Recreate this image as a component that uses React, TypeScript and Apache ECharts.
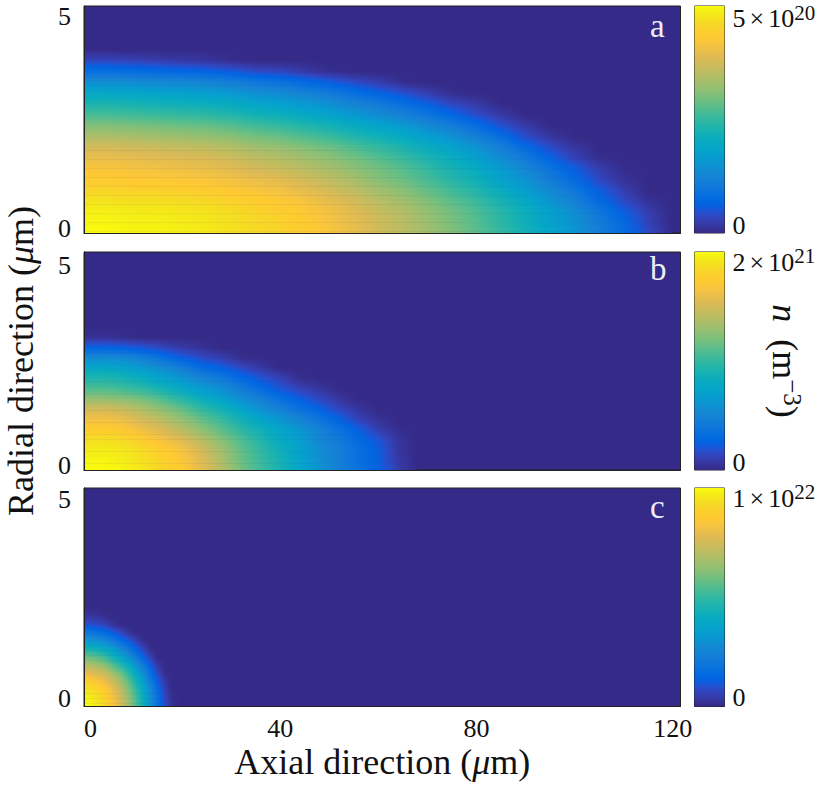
import React, { useEffect, useRef } from "react";
import * as echarts from "echarts";

const FONT = "'Liberation Serif', serif";

// parula-like colour map, as sampled from the reference's colour bar
const PARULA = [
  [.2081,.1663,.5292],[.2116,.1898,.5777],[.2123,.2138,.6270],[.2081,.2386,.6771],[.1959,.2645,.7279],[.1707,.2919,.7792],[.1253,.3242,.8303],[.0591,.3598,.8683],
  [.0117,.3875,.8820],[.0060,.4086,.8828],[.0165,.4266,.8786],[.0329,.4430,.8720],[.0498,.4586,.8641],[.0629,.4737,.8554],[.0723,.4887,.8467],[.0779,.5040,.8384],
  [.0793,.5200,.8312],[.0749,.5375,.8263],[.0641,.5570,.8240],[.0488,.5772,.8228],[.0343,.5966,.8199],[.0265,.6137,.8135],[.0239,.6287,.8038],[.0231,.6418,.7913],
  [.0228,.6535,.7768],[.0267,.6642,.7607],[.0384,.6743,.7436],[.0590,.6838,.7254],[.0843,.6928,.7062],[.1133,.7015,.6859],[.1453,.7098,.6646],[.1801,.7177,.6424],
  [.2178,.7250,.6193],[.2586,.7317,.5954],[.3022,.7376,.5712],[.3482,.7424,.5473],[.3953,.7459,.5244],[.4420,.7481,.5033],[.4871,.7491,.4840],[.5300,.7491,.4661],
  [.5709,.7485,.4494],[.6099,.7473,.4337],[.6473,.7456,.4188],[.6834,.7435,.4044],[.7184,.7411,.3905],[.7525,.7384,.3768],[.7858,.7356,.3633],[.8185,.7327,.3498],
  [.8507,.7299,.3360],[.8824,.7350,.3217],[.9050,.7450,.3000],[.9300,.7550,.2800],[.9550,.7650,.2550],[.9800,.7750,.2300],[.9950,.7850,.2050],[.9955,.7950,.1900],
  [.9880,.8066,.1794],[.9789,.8271,.1633],[.9697,.8481,.1475],[.9626,.8705,.1309],[.9589,.8949,.1132],[.9598,.9218,.0948],[.9661,.9514,.0755],[.9763,.9831,.0538],
];

// Panel a: density in percent of the colour-scale top
const axialA = [0,5,10,15,20,25,30,35,40,45,50,55,60,65,70,75,80,85,90,95,100,105,110,115,120];
const radialA = [0,.25,.5,.75,1,1.25,1.5,1.75,2,2.25,2.5,2.75,3,3.25,3.5,3.75,4,4.25];
const densityA = [
  [100,100,99,99,98,97,95,93,91,88,84,80,75,71,66,61,56,50,44,37,31,23,16,8,0],
  [99,99,98,98,97,96,94,92,90,87,83,79,74,70,65,60,55,49,43,36,30,22,15,6,0],
  [98,98,97,97,96,95,93,91,89,86,82,78,73,69,64,59,54,48,42,35,28,20,12,5,0],
  [95,95,94,94,93,92,90,88,86,83,79,75,70,66,61,56,51,45,39,31,24,15,8,2,0],
  [91,91,90,90,89,88,86,84,82,79,75,71,66,62,57,52,47,41,34,27,20,12,5,0,0],
  [87,87,86,86,85,84,82,80,78,75,71,67,62,58,53,48,43,36,30,22,15,7,2,0,0],
  [84,84,83,82,81,80,78,75,73,70,67,63,59,55,50,45,40,33,26,19,12,5,1,0,0],
  [80,80,79,78,77,76,74,71,69,66,63,59,55,51,46,41,35,28,21,13,6,1,0,0,0],
  [75,75,74,73,72,71,69,66,64,61,58,54,50,46,41,36,30,23,15,8,3,0,0,0,0],
  [68,68,67,66,65,64,62,59,57,54,51,47,43,39,34,29,23,16,8,3,0,0,0,0,0],
  [61,61,60,59,58,57,55,52,50,47,44,40,36,32,27,22,16,9,4,0,0,0,0,0,0],
  [53,53,52,51,50,49,47,44,42,39,36,32,28,24,19,14,8,4,0,0,0,0,0,0,0],
  [46,46,45,44,43,42,40,37,35,32,29,25,21,17,12,7,4,0,0,0,0,0,0,0,0],
  [38,38,37,36,35,34,32,29,27,24,21,17,13,9,5,1,0,0,0,0,0,0,0,0,0],
  [29,29,28,27,26,25,23,20,18,15,12,8,5,1,0,0,0,0,0,0,0,0,0,0,0],
  [17,17,16,15,14,13,11,8,7,4,1,0,0,0,0,0,0,0,0,0,0,0,0,0,0],
  [7,7,6,5,4,3,1,0,0,0,0,0,0,0,0,0,0,0,0,0,0,0,0,0,0],
  [0,0,0,0,0,0,0,0,0,0,0,0,0,0,0,0,0,0,0,0,0,0,0,0,0],
];

// Panel b
const axialB = [0,4,8,12,16,20,24,28,32,36,40,44,48,52,56,60,64,68];
const radialB = [0,.25,.5,.75,1,1.25,1.5,1.75,2,2.25,2.5,2.75,3,3.25,3.5];
const densityB = [
  [100,100,99,96,91,87,79,70,60,52,45,38,30,24,18,13,5,0],
  [99,99,97,94,90,85,77,68,58,51,44,37,29,23,17,12,4,0],
  [97,97,96,93,88,83,75,66,57,50,43,36,28,23,17,12,3,0],
  [94,94,92,88,83,77,70,62,54,47,40,34,26,21,15,10,3,0],
  [88,88,86,81,76,70,63,56,49,43,37,31,24,18,12,5,1,0],
  [82,82,80,75,70,64,57,51,44,37,31,25,19,13,6,2,0,0],
  [75,75,73,68,63,57,50,44,37,30,24,18,13,7,3,0,0,0],
  [64,64,62,59,54,48,42,36,29,23,17,12,7,3,0,0,0,0],
  [54,54,52,49,44,39,33,29,22,16,10,6,3,0,0,0,0,0],
  [47,47,45,41,36,31,25,21,15,10,6,1,0,0,0,0,0,0],
  [39,39,37,33,28,23,16,13,8,4,0,0,0,0,0,0,0,0],
  [27,27,26,23,17,12,8,5,1,0,0,0,0,0,0,0,0,0],
  [13,13,12,10,7,4,2,0,0,0,0,0,0,0,0,0,0,0],
  [2,2,1,0,0,0,0,0,0,0,0,0,0,0,0,0,0,0],
  [0,0,0,0,0,0,0,0,0,0,0,0,0,0,0,0,0,0],
];

// Panel c
const axialC = [0,1.5,3,4.5,6,7.5,9,10.5,12,13.5,15,16.5,18,19.5];
const radialC = [0,.2,.4,.6,.8,1,1.2,1.4,1.6,1.8,2,2.2,2.4];
const densityC = [
  [100,99,96,91,84,76,66,55,43,30,18,8,2,0],
  [99,97,94,90,83,74,65,54,42,29,17,7,1,0],
  [96,94,91,87,79,72,62,51,40,27,16,6,0,0],
  [90,88,85,80,74,66,57,46,35,23,12,4,0,0],
  [81,79,76,73,66,59,50,40,29,18,8,1,0,0],
  [70,69,66,62,55,49,41,31,22,12,4,0,0,0],
  [59,58,55,51,44,38,31,22,14,6,0,0,0,0],
  [46,45,43,39,34,27,21,14,7,1,0,0,0,0],
  [32,31,29,26,21,16,11,6,1,0,0,0,0,0],
  [20,19,17,15,11,7,3,0,0,0,0,0,0,0],
  [9,8,7,5,2,0,0,0,0,0,0,0,0,0],
  [3,3,2,1,0,0,0,0,0,0,0,0,0,0],
  [0,0,0,0,0,0,0,0,0,0,0,0,0,0],
];

const panelLetters = ["a", "b", "c"];
const colourTops = [5.3, 2.1, 1.05];
const colourTickValues = [5, 2, 1];
const colourTickExponents = ["20", "21", "22"];
const axialTicks = [0, 40, 80, 120];
const radialTicks = [0, 5];

const fields = [
  { z: axialA, r: radialA, d: densityA },
  { z: axialB, r: radialB, d: densityB },
  { z: axialC, r: radialC, d: densityC },
];

const layout = [
  { top: 6, height: 227, zeroLine: 9, barZeroLine: 16, rMax: 5.25, letterY: 29 },
  { top: 252, height: 218, zeroLine: 10, barZeroLine: 16, rMax: 5.32, letterY: 272 },
  { top: 488, height: 218.5, zeroLine: 16, barZeroLine: 19, rMax: 5.28, letterY: 510 },
];

function parula(t: number) {
  const x = Math.max(0, Math.min(1, t)) * (PARULA.length - 1);
  const i = Math.min(PARULA.length - 2, Math.floor(x));
  const f = x - i;
  const c = PARULA[i].map((v, j) => Math.round(255 * (v + (PARULA[i + 1][j] - v) * f)));
  return `rgb(${c[0]},${c[1]},${c[2]})`;
}

// Smooth shading of one table row pair, like MATLAB's "shading interp".
function shadedRow(field: any) {
  return (_params: any, api: any) => {
    const k = api.value(0);
    const lower = field.d[k];
    const upper = field.d[k + 1];
    const yLow = api.coord([0, field.r[k]])[1];
    const yUp = api.coord([0, field.r[k + 1]])[1];
    const x0 = api.coord([field.z[0], 0])[0];
    const x1 = api.coord([field.z[field.z.length - 1], 0])[0];
    const n = Math.max(1, Math.ceil((yLow - yUp) / 2));
    const children: any[] = [];
    const last = field.z.length - 1;
    for (let s = 0; s < n; s++) {
      const t = (s + 0.5) / n;
      const stops: any[] = [];
      for (let c = 0; c < last; c++) {
        for (let q = 0; q < 2; q++) {
          const u = q / 2;
          const a = lower[c] + (lower[c + 1] - lower[c]) * u;
          const b = upper[c] + (upper[c + 1] - upper[c]) * u;
          stops.push({
            offset: (field.z[c] + (field.z[c + 1] - field.z[c]) * u - field.z[0]) / (field.z[last] - field.z[0]),
            color: parula((a + (b - a) * t) / 100),
          });
        }
      }
      stops.push({ offset: 1, color: parula((lower[last] + (upper[last] - lower[last]) * t) / 100) });
      const h = (yLow - yUp) / n;
      children.push({
        type: "rect",
        shape: { x: x0, y: yLow - h * (s + 1), width: x1 - x0, height: h + 0.6 },
        style: { fill: { type: "linear", x: 0, y: 0, x2: 1, y2: 0, colorStops: stops, global: false } },
      });
    }
    return { type: "group", children };
  };
}

function colourBar(top: number) {
  return (_params: any, api: any) => {
    const p0 = api.coord([0, 0]);
    const p1 = api.coord([1, top]);
    const stops = PARULA.map((_, i) => ({ offset: i / (PARULA.length - 1), color: parula(i / (PARULA.length - 1)) }));
    return {
      type: "rect",
      shape: { x: p0[0], y: p1[1], width: p1[0] - p0[0], height: p0[1] - p1[1] },
      style: { fill: { type: "linear", x: 0, y: 1, x2: 0, y2: 0, colorStops: stops, global: false } },
    };
  };
}

export default function App() {
  const ref = useRef<HTMLDivElement>(null);
  useEffect(() => {
    const chart = echarts.init(ref.current!, undefined, { renderer: "svg" });
    const grid: any[] = [];
    const xAxis: any[] = [];
    const yAxis: any[] = [];
    const series: any[] = [];
    const base = parula(0);
    const edge = "#222";
    const tickStyle = { fontFamily: FONT, fontSize: 26, color: "#111" };
    const titleRich = { i: { fontFamily: FONT, fontSize: 36, fontStyle: "italic", color: "#111" } };

    layout.forEach((l, i) => {
      grid.push({ left: 84, top: l.top, width: 596.5, height: l.height, show: true, backgroundColor: base, borderColor: edge, borderWidth: 1, outerBoundsMode: "none" });
      xAxis.push({
        gridIndex: i * 2, type: "value", min: 0, max: 121.6, z: 5,
        axisLine: { show: true, onZero: false, lineStyle: { color: edge, width: 1 } },
        axisTick: { show: false }, splitLine: { show: false },
        axisLabel: i === 2
          ? { show: true, customValues: axialTicks, margin: 9, alignMinLabel: "left", ...tickStyle }
          : { show: false },
        ...(i === 2
          ? { name: "Axial direction ({i|μ}m)", nameLocation: "middle", nameGap: 37,
              nameTextStyle: { fontFamily: FONT, fontSize: 36, color: "#111", rich: titleRich } }
          : {}),
      });
      yAxis.push({
        gridIndex: i * 2, type: "value", min: 0, max: l.rMax, z: 5,
        axisLine: { show: true, onZero: false, lineStyle: { color: edge, width: 1 } },
        axisTick: { show: false }, splitLine: { show: false },
        axisLabel: { customValues: radialTicks, margin: 13, verticalAlignMinLabel: "bottom", lineHeight: l.zeroLine, ...tickStyle },
        ...(i === 1
          ? { name: "Radial direction ({i|μ}m)", nameLocation: "middle", nameGap: 45, nameRotate: 90,
              nameTextStyle: { fontFamily: FONT, fontSize: 36, color: "#111", rich: titleRich } }
          : {}),
      });
      const field = fields[i];
      series.push({
        type: "custom", xAxisIndex: i * 2, yAxisIndex: i * 2, silent: true, clip: true,
        renderItem: shadedRow(field),
        encode: { x: 1, y: 1 },
        data: field.r.slice(0, -1).map((r, k) => [k, r]),
      });

      // colour bar
      grid.push({ left: 694.5, top: l.top, width: 30, height: l.height, show: true, backgroundColor: base, borderColor: edge, borderWidth: 1, outerBoundsMode: "none" });
      xAxis.push({ gridIndex: i * 2 + 1, type: "value", min: 0, max: 1, show: false });
      const top = colourTops[i];
      const tick = colourTickValues[i];
      const exp = colourTickExponents[i];
      yAxis.push({
        gridIndex: i * 2 + 1, type: "value", min: 0, max: top, position: "right", z: 5,
        axisLine: { show: false }, axisTick: { show: false }, splitLine: { show: false },
        axisLabel: {
          customValues: [0, tick], margin: 8, verticalAlignMinLabel: "bottom", lineHeight: l.barZeroLine, ...tickStyle,
          formatter: (v: number) => (v === 0 ? "0" : `{b|${tick}}{x|×}{b|10}{e|${exp}}`),
          rich: {
            b: { fontFamily: FONT, fontSize: 26, color: "#111" },
            x: { fontFamily: FONT, fontSize: 26, color: "#111", padding: [0, 4, 0, 4] },
            e: { fontFamily: FONT, fontSize: 21, color: "#111", padding: [0, 0, 12, 0] },
          },
        },
        ...(i === 1
          ? { name: "{i|n} (m{e|−3})", nameLocation: "middle", nameGap: 41, nameRotate: -90, nameMoveOverlap: false,
              nameTextStyle: { fontFamily: FONT, fontSize: 36, color: "#111",
                rich: { i: { fontFamily: FONT, fontSize: 36, fontStyle: "italic", color: "#111", padding: [0, 8, 0, 0] },
                        e: { fontFamily: FONT, fontSize: 25, color: "#111", padding: [0, 0, 14, 0] } } } }
          : {}),
      });
      series.push({
        type: "custom", xAxisIndex: i * 2 + 1, yAxisIndex: i * 2 + 1, silent: true,
        renderItem: colourBar(top),
        data: [[0, 0]],
      });
    });

    chart.setOption({
      animation: false,
      backgroundColor: "#fff",
      grid, xAxis, yAxis, series,
      graphic: layout.map((l, i) => ({
        type: "text", left: 650, top: l.letterY - 20, z: 20,
        style: { text: panelLetters[i], fontFamily: FONT, fontSize: 33, fill: "#eceef6" },
      })),
    });
    return () => chart.dispose();
  }, []);
  return <div ref={ref} style={{ position: "absolute", left: 0, top: 0, width: 832, height: 787 }} />;
}
